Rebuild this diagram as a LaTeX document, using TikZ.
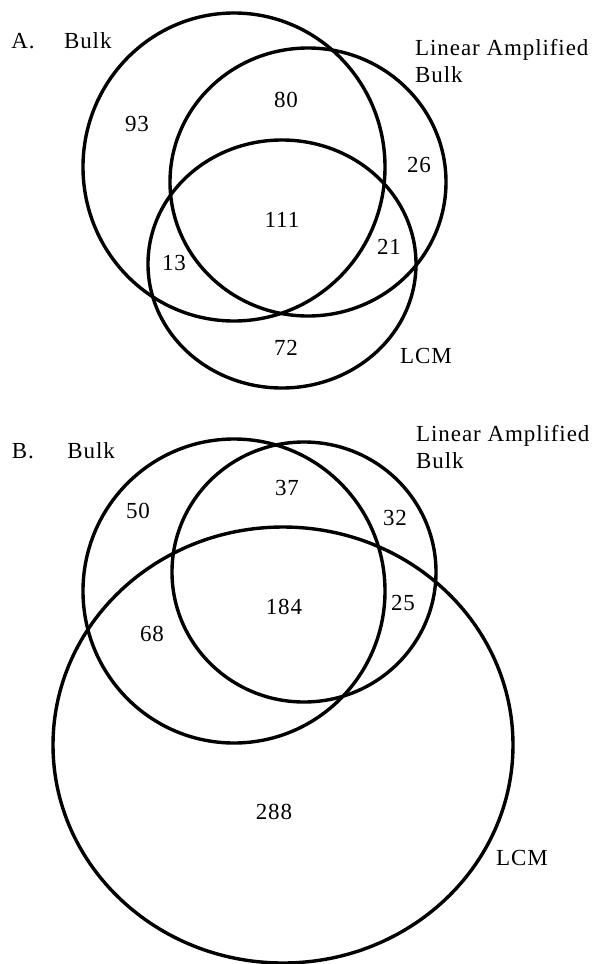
\documentclass[tikz,border=0pt]{standalone}
\usepackage{fontspec}
\setmainfont{Liberation Serif}[LetterSpace=4]
\usetikzlibrary{positioning}

\begin{document}
\begin{tikzpicture}[x=1pt,y=-1pt,every node/.style={font=\fontsize{23}{27}\selectfont,align=center,inner sep=0pt},ring/.style={line width=3.4pt}]
\useasboundingbox (0,0) rectangle (594,964);
% A.
\coordinate (bulkA) at (234,167); \coordinate (ampA) at (308,182); \coordinate (lcmA) at (282,264);
\draw[ring] (bulkA) ellipse [x radius=151pt,y radius=154pt];
\draw[ring] (ampA) ellipse [x radius=138pt,y radius=134pt];
\draw[ring] (lcmA) ellipse [x radius=134pt,y radius=124pt];
\node (tagA) at (23,41) {A.};
\node[right=29pt of tagA] (bulkAlbl) {Bulk};
\node[anchor=north west,align=left] (ampAlbl) at (415,39) {Linear Amplified\\Bulk};
\node (lcmAlbl) at (426,356) {LCM};
\node (a93) at (137,124) {93}; \node (a80) at (286,100) {80}; \node (a26) at (419,165) {26};
\node (a111) at (282,220) {111}; \node (a13) at (174,263) {13}; \node (a21) at (389,247) {21};
\node (a72) at (286,348) {72};
% B.
\coordinate (bulkB) at (234,591); \coordinate (ampB) at (304,572); \coordinate (lcmB) at (283,745);
\draw[ring] (bulkB) ellipse [x radius=151pt,y radius=152pt];
\draw[ring] (ampB) ellipse [x radius=132pt,y radius=130pt];
\draw[ring] (lcmB) ellipse [x radius=230pt,y radius=218pt];
\node (tagB) at (23,451) {B.};
\node[right=33pt of tagB] (bulkBlbl) {Bulk};
\node[anchor=north west,align=left] (ampBlbl) at (416,425) {Linear Amplified\\Bulk};
\node (lcmBlbl) at (522,858) {LCM};
\node (b50) at (138,511) {50}; \node (b37) at (287,488) {37}; \node (b32) at (395,518) {32};
\node (b184) at (284,607) {184}; \node (b68) at (152,634) {68}; \node (b25) at (403,603) {25};
\node (b288) at (274,812) {288};
\end{tikzpicture}
\end{document}
